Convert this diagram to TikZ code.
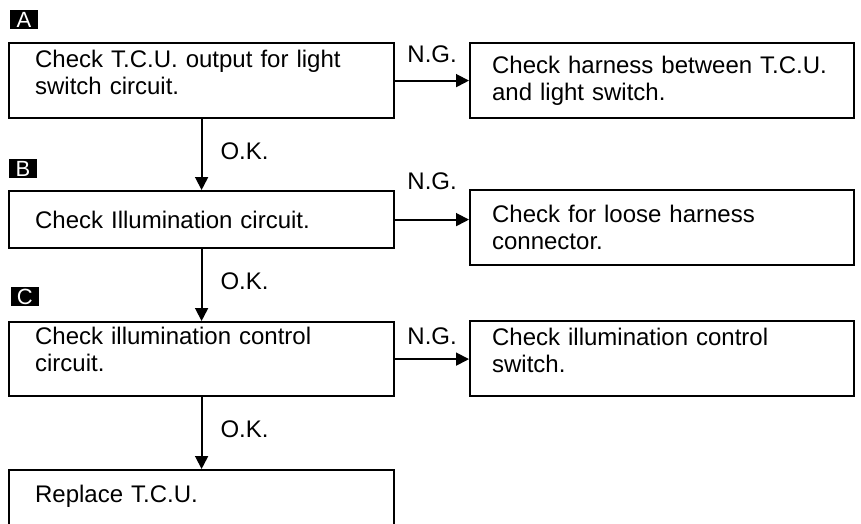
\documentclass[tikz,border=0pt]{standalone}
\usepackage{fontspec}
\setmainfont{Liberation Sans}
\usetikzlibrary{positioning, arrows.meta}

\begin{document}
\begin{tikzpicture}[
    x=1pt, y=-1pt, ->, >={Triangle[length=13pt, width=13pt]}, line width=1.8pt,
    font=\fontsize{24}{27}\selectfont,
    check/.style={draw, -, line width=2.2pt, rectangle, anchor=north west, minimum height=75pt, text width=333pt, inner xsep=26pt, align=left},
    fix/.style={check, text width=340pt, inner xsep=22pt},
    tag/.style={fill=black, text=white, inner sep=0pt, minimum width=28pt, minimum height=19pt, font=\fontsize{22}{22}\selectfont},
    ok/.style={right=18pt, pos=0.45, inner sep=0pt},
    ng/.style={inner sep=0pt}
]
    \useasboundingbox (0,0) rectangle (861,523);
    \clip (0,0) rectangle (861,523);

    % left column
    \node[check, text depth=43pt] (a) at (8,42) {Check T.C.U. output for light\\switch circuit.};
    \node[check, minimum height=57pt] (b) at (8,190) {Check Illumination circuit.};
    \node[check, minimum height=74pt, text depth=47pt] (c) at (8,321) {Check illumination control\\circuit.};
    \node[check, text depth=28pt] (d) at (8,469) {Replace T.C.U.};

    % right column
    \node[fix] (ang) at (469,42) {Check harness between T.C.U.\\and light switch.};
    \node[fix] (bng) at (469,189) {Check for loose harness\\connector.};
    \node[fix, text depth=43pt] (cng) at (469,320) {Check illumination control\\switch.};

    % markers
    \node[tag, above right=12pt and 1pt of a.north west] (ta) {A};
    \node[tag, above right=11pt and 0pt of b.north west] (tb) {B};
    \node[tag, above right=14pt and 2pt of c.north west] (tc) {C};

    \path
        (a) edge node[ok] {O.K.} (b)
        (b) edge node[ok] {O.K.} (c)
        (c) edge node[ok] {O.K.} (d)
        (a.east) edge node[ng, above=17pt] {N.G.} (a.east -| ang.west)
        (b.east) edge node[ng, above=29pt] {N.G.} (b.east -| bng.west)
        (c.east) edge node[ng, above=13pt] {N.G.} (c.east -| cng.west);
\end{tikzpicture}
\end{document}
